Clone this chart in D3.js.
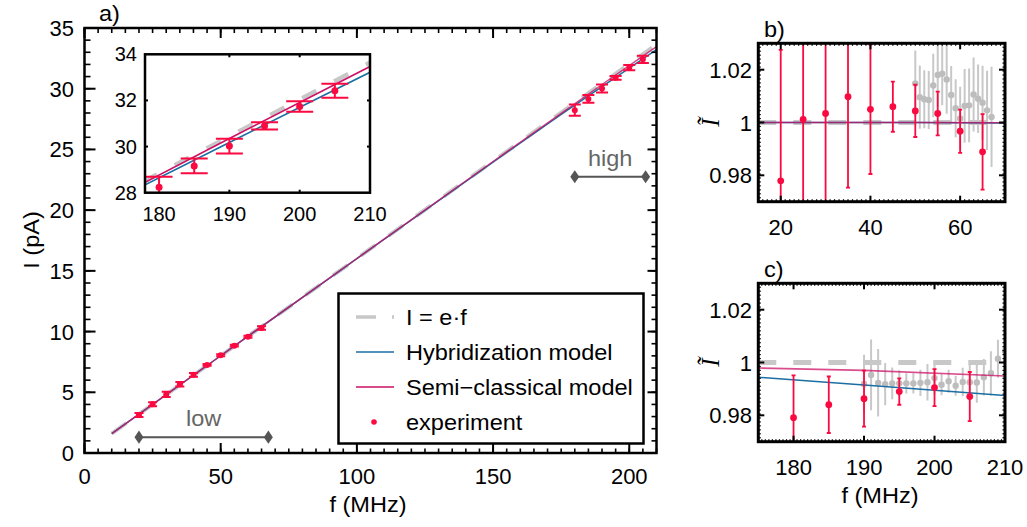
<!DOCTYPE html>
<html><head><meta charset="utf-8">
<script src="https://cdn.jsdelivr.net/npm/d3@7"></script>
<style>
body{margin:0;background:#fff}
svg{display:block;font-family:"Liberation Sans",Arial,sans-serif}
</style>
</head><body>
<svg id="chart" width="1027" height="527"></svg>
<script>
// ---------------- data ----------------
const E_CHARGE = 0.1602;               // pA per MHz  (I = e·f)
// low-frequency experiment (normalized current Ĩ = I/(e f))
const fLow      = [20, 25, 30, 35, 40, 45, 50, 55, 60, 65];
const ItLow     = [0.9779, 1.0012, 1.0034, 1.0098, 1.0050, 1.0060, 1.0044, 1.0034, 0.9967, 0.9889];
const errLow    = [0.0496, 0.0400, 0.0450, 0.0345, 0.0245, 0.0095, 0.0099, 0.0083, 0.0082, 0.0143];
const fLowGray  = [50, 51, 52, 53, 54, 55, 56, 57, 58, 59, 60, 61, 62, 63, 64, 65, 66, 67];
const ItLowGray = [1.0148, 1.0096, 1.0088, 1.0085, 1.0140, 1.0180, 1.0185, 1.0163, 1.0104, 1.0054, 1.0015, 1.0063, 1.0065, 1.0106, 1.0090, 1.0075, 1.0046, 1.0021];
const errLowGray= [0.0125, 0.0120, 0.0110, 0.0110, 0.0120, 0.0120, 0.0120, 0.0130, 0.0110, 0.0110, 0.0120, 0.0140, 0.0140, 0.0140, 0.0130, 0.0140, 0.0150, 0.0190];
// high-frequency experiment
const fHigh     = [180, 185, 190, 195, 200, 205];
const ItHigh    = [0.9791, 0.9840, 0.9863, 0.9890, 0.9905, 0.9871];
const errHigh   = [0.0160, 0.0107, 0.0106, 0.0050, 0.0070, 0.0093];
const fHighGray = [190, 191, 192, 193, 194, 195, 196, 197, 198, 199, 200, 201, 202, 203, 204, 205, 206, 207, 208, 209, 210];
const ItHighGray= [0.9919, 0.9953, 0.9923, 0.9918, 0.9921, 0.9921, 0.9921, 0.9921, 0.9923, 0.9925, 0.9941, 0.9916, 0.9929, 0.9912, 0.9926, 0.9925, 0.9924, 0.9944, 0.9959, 1.0014, 1.0044];
const errHighGray=[0.0110, 0.0134, 0.0128, 0.0080, 0.0060, 0.0050, 0.0038, 0.0038, 0.0050, 0.0069, 0.0063, 0.0040, 0.0044, 0.0038, 0.0054, 0.0069, 0.0076, 0.0069, 0.0084, 0.0072, 0.0070];
// models (normalized)
const fModel    = [10, 50, 100, 150, 175, 190, 210];
const hybModel  = [1.0000, 1.0000, 0.9995, 0.9972, 0.9944, 0.9915, 0.9875];
const semiModel = [1.0000, 1.0000, 0.9998, 0.9990, 0.9979, 0.9970, 0.9949];
// ranges
const lowRange  = [20, 67.5];
const highRange = [180, 206];
// tick labels
const mainXTicks = [0, 50, 100, 150, 200];
const mainYTicks = [0, 5, 10, 15, 20, 25, 30, 35];
const insetXTicks = [180, 190, 200, 210];
const insetYTicks = [28, 30, 32, 34];
const bXTicks = [20, 40, 60];
const cXTicks = [180, 190, 200, 210];
const normYTicks = [0.98, 1, 1.02];
const legendLabels = ["I = e\u00b7f", "Hybridization model", "Semi\u2212classical model", "experiment"];

// ---------------- styles ----------------
const RED = "#fa0a40", BLUE = "#1a6ea3", MAG = "#cc1166", GRAY = "#c8c8c8", GRAYDOT = "#bdbdbd";
const STRETCH = 1.07;

const svg = d3.select("#chart");
const defs = svg.append("defs");
function stext(g, x, y, str, size, anchor, extra) {
  const t = g.append("text").attr("transform", `translate(${x},${y}) ${extra || ""} scale(${STRETCH},1)`)
    .attr("text-anchor", anchor || "start").attr("font-size", size).text(str);
  return t;
}
function clip(id, x, y) {
  const [x0, x1] = x.range(), [yb, yt] = y.range();
  defs.append("clipPath").attr("id", id).append("rect")
    .attr("x", x0).attr("y", yt).attr("width", x1 - x0).attr("height", yb - yt);
}
function ticks(g, x, y, o) {
  const [x0, x1] = x.range(), [yb, yt] = y.range();
  const add = (x1_, y1_, x2_, y2_, w) => g.append("line").attr("x1", x1_).attr("y1", y1_).attr("x2", x2_).attr("y2", y2_)
      .attr("stroke", "#000").attr("stroke-width", w);
  (o.xMinor || []).forEach(v => { const p = x(v); add(p, yb, p, yb - o.minB, o.wMin); add(p, yt, p, yt + o.minT, o.wMin); });
  (o.yMinor || []).forEach(v => { const p = y(v); add(x0, p, x0 + o.minL, p, o.wMin); add(x1, p, x1 - o.minR, p, o.wMin); });
  (o.xMajor || []).forEach(v => { const p = x(v); add(p, yb, p, yb - o.majB, o.wMaj); add(p, yt, p, yt + o.majT, o.wMaj); });
  (o.yMajor || []).forEach(v => { const p = y(v); add(x0, p, x0 + o.majL, p, o.wMaj); add(x1, p, x1 - o.majR, p, o.wMaj); });
}
function frame(g, x, y, w) {
  const [x0, x1] = x.range(), [yb, yt] = y.range();
  g.append("rect").attr("x", x0).attr("y", yt).attr("width", x1 - x0).attr("height", yb - yt)
    .attr("fill", "none").attr("stroke", "#000").attr("stroke-width", w);
}
function errbars(g, x, y, pts, color, cap, sw) {
  pts.forEach(d => {
    g.append("line").attr("x1", x(d.f)).attr("x2", x(d.f)).attr("y1", y(d.lo)).attr("y2", y(d.hi))
      .attr("stroke", color).attr("stroke-width", sw);
    if (cap > 0) {
      [d.lo, d.hi].forEach(v => g.append("line").attr("x1", x(d.f) - cap).attr("x2", x(d.f) + cap)
        .attr("y1", y(v)).attr("y2", y(v)).attr("stroke", color).attr("stroke-width", sw));
    }
  });
}
function dots(g, x, y, pts, color, r) {
  g.selectAll(null).data(pts).join("circle").attr("cx", d => x(d.f)).attr("cy", d => y(d.v)).attr("r", r).attr("fill", color);
}
const range = (a, b, s) => d3.range(a, b + s / 2, s);

// derived point sets
const norm = (fs, vs, es) => fs.map((f, i) => ({ f, v: vs[i], lo: vs[i] - es[i], hi: vs[i] + es[i] }));
const toI  = (fs, vs, es) => fs.map((f, i) => ({ f, v: vs[i] * E_CHARGE * f, lo: (vs[i] - es[i]) * E_CHARGE * f, hi: (vs[i] + es[i]) * E_CHARGE * f }));
const lowPtsI  = toI(fLow, ItLow, errLow);
const highPtsI = toI(fHigh, ItHigh, errHigh);
const modelI = arr => fModel.map((f, i) => [f, arr[i] * E_CHARGE * f]);
const idealI = fModel.map(f => [f, E_CHARGE * f]);

// ================= main panel a =================
const xA = d3.scaleLinear([0, 210], [84.5, 656.5]);
const yA = d3.scaleLinear([0, 35], [453, 28]);
clip("clipA", xA, yA);
const gA = svg.append("g");
const lineA = d3.line().x(d => xA(d[0])).y(d => yA(d[1]));
const plotA = gA.append("g").attr("clip-path", "url(#clipA)");
plotA.append("path").attr("d", lineA(idealI)).attr("fill", "none").attr("stroke", GRAY).attr("stroke-width", 4).attr("stroke-dasharray", "18,16");
plotA.append("path").attr("d", lineA(modelI(hybModel))).attr("fill", "none").attr("stroke", BLUE).attr("stroke-width", 1.5);
plotA.append("path").attr("d", lineA(modelI(semiModel))).attr("fill", "none").attr("stroke", MAG).attr("stroke-width", 1.5).attr("stroke-opacity", 0.8);
errbars(plotA, xA, yA, lowPtsI, RED, 4.5, 2);
errbars(plotA, xA, yA, highPtsI, RED, 6, 2);
dots(plotA, xA, yA, lowPtsI, RED, 3);
dots(plotA, xA, yA, highPtsI, RED, 3);

// low / high range markers
function rangeMarker(r, level, label, labelLevel) {
  const g = gA.append("g");
  g.append("line").attr("x1", xA(r[0])).attr("x2", xA(r[1])).attr("y1", yA(level)).attr("y2", yA(level))
    .attr("stroke", "#555").attr("stroke-width", 2);
  r.forEach(v => g.append("path").attr("d", d3.symbol(d3.symbolDiamond, 70)())
    .attr("transform", `translate(${xA(v)},${yA(level)}) scale(1,0.85)`).attr("fill", "#555"));
  stext(g, (xA(r[0]) + xA(r[1])) / 2, yA(labelLevel), label, 22, "middle").attr("fill", "#666");
}
rangeMarker(lowRange, 1.3, "low", 2.2);
rangeMarker(highRange, 22.75, "high", 23.65);

frame(gA, xA, yA, 2.5);
ticks(gA, xA, yA, {
  xMajor: mainXTicks, xMinor: range(0, 210, 5), yMajor: mainYTicks, yMinor: range(0, 35, 1),
  majB: 10, minB: 4.5, majT: 10, minT: 5, majL: 11, minL: 6, majR: 9, minR: 5, wMaj: 2, wMin: 1.6
});
gA.selectAll(null).data(mainXTicks).join("text").attr("x", d => xA(d)).attr("y", 484)
  .attr("text-anchor", "middle").attr("font-size", 22).text(d => d);
gA.selectAll(null).data(mainYTicks).join("text").attr("x", 74).attr("y", d => yA(d) + 8)
  .attr("text-anchor", "end").attr("font-size", 22).text(d => d);
stext(gA, 368, 512, "f (MHz)", 22, "middle");
stext(gA, 39, 240, "I (pA)", 22, "middle", "rotate(-90)");
stext(gA, 99, 21, "a)", 22, "start");

// ---------------- inset ----------------
const xI = d3.scaleLinear([178, 210], [145, 370]);
const yI = d3.scaleLinear([28, 34], [192.7, 54.3]);
clip("clipI", xI, yI);
const gI = svg.append("g");
gI.append("rect").attr("x", 145).attr("y", 54.3).attr("width", 225).attr("height", 138.4).attr("fill", "#fff");
const lineI = d3.line().x(d => xI(d[0])).y(d => yI(d[1]));
const plotI = gI.append("g").attr("clip-path", "url(#clipI)");
plotI.append("path").attr("d", lineI(idealI)).attr("fill", "none").attr("stroke", GRAY).attr("stroke-width", 4.5).attr("stroke-dasharray", "16,20");
plotI.append("path").attr("d", lineI(modelI(hybModel))).attr("fill", "none").attr("stroke", BLUE).attr("stroke-width", 1.6);
plotI.append("path").attr("d", lineI(modelI(semiModel))).attr("fill", "none").attr("stroke", MAG).attr("stroke-width", 1.6);
errbars(plotI, xI, yI, highPtsI, RED, 13.5, 2);
dots(plotI, xI, yI, highPtsI, RED, 3.5);
frame(gI, xI, yI, 2.5);
ticks(gI, xI, yI, {
  xMajor: [190, 200], yMajor: [30, 32], majB: 3, majT: 3, majL: 3, majR: 3, wMaj: 2
});
gI.selectAll(null).data(insetXTicks).join("text").attr("x", d => xI(d)).attr("y", 221)
  .attr("text-anchor", "middle").attr("font-size", 20).text(d => d);
gI.selectAll(null).data(insetYTicks).join("text").attr("x", 137).attr("y", d => yI(d) + 7)
  .attr("text-anchor", "end").attr("font-size", 20).text(d => d);

// ---------------- legend ----------------
const gL = svg.append("g");
gL.append("rect").attr("x", 338.5).attr("y", 293.5).attr("width", 305).attr("height", 150)
  .attr("fill", "#fff").attr("stroke", "#000").attr("stroke-width", 2.5);
const legY = [317, 352, 387, 422];
legendLabels.forEach((t, i) => {
  const yy = legY[i];
  if (i === 0) gL.append("line").attr("x1", 356).attr("x2", 394).attr("y1", yy).attr("y2", yy)
    .attr("stroke", GRAY).attr("stroke-width", 3.5).attr("stroke-dasharray", "20,16");
  if (i === 1) gL.append("line").attr("x1", 356).attr("x2", 394).attr("y1", yy).attr("y2", yy).attr("stroke", BLUE).attr("stroke-width", 1.6);
  if (i === 2) gL.append("line").attr("x1", 356).attr("x2", 394).attr("y1", yy).attr("y2", yy).attr("stroke", MAG).attr("stroke-width", 1.6);
  if (i === 3) gL.append("circle").attr("cx", 374).attr("cy", yy).attr("r", 2.8).attr("fill", RED);
  stext(gL, 406, yy + 8, t, 22, "start");
});

// ================= panels b & c =================
function normPanel(id, x, y, xTickVals, xMinorStep, fmtX, grayPts, redPts, label, labelY, xLabel) {
  clip(id, x, y);
  const g = svg.append("g");
  const p = g.append("g").attr("clip-path", `url(#${id})`);
  const ln = d3.line().x(d => x(d[0])).y(d => y(d[1]));
  const [x0, x1] = x.domain();
  p.append("path").attr("d", ln([[x0, 1], [x1, 1]])).attr("fill", "none").attr("stroke", GRAY)
    .attr("stroke-width", 5).attr("stroke-dasharray", "18,17");
  errbars(p, x, y, grayPts, GRAY, 0, 2);
  dots(p, x, y, grayPts, GRAYDOT, 3.2);
  p.append("path").attr("d", ln(fModel.map((f, i) => [f, hybModel[i]]))).attr("fill", "none").attr("stroke", BLUE).attr("stroke-width", 1.6);
  p.append("path").attr("d", ln(fModel.map((f, i) => [f, semiModel[i]]))).attr("fill", "none").attr("stroke", MAG).attr("stroke-width", 1.6).attr("stroke-opacity", 0.75);
  errbars(p, x, y, redPts, RED, 2, 1.8);
  dots(p, x, y, redPts, RED, 3.4);
  frame(g, x, y, 3);
  ticks(g, x, y, {
    xMajor: xTickVals, xMinor: range(x0, x1, xMinorStep), yMajor: normYTicks, yMinor: range(0.97, 1.03, 0.0015),
    majB: 6, minB: 2.5, majT: 6, minT: 2.5, majL: 6, minL: 2.5, majR: 6, minR: 2.5, wMaj: 2, wMin: 1.2
  });
  const [yb] = y.range();
  g.selectAll(null).data(xTickVals).join("text").attr("x", d => x(d)).attr("y", yb + 33)
    .attr("text-anchor", "middle").attr("font-size", 22).text(fmtX);
  g.selectAll(null).data(normYTicks).join("text").attr("x", 752).attr("y", d => y(d) + 8)
    .attr("text-anchor", "end").attr("font-size", 22).text(d => d3.format("")(d));
  g.append("text").attr("transform", `translate(719,${y(1)}) rotate(-90)`).attr("text-anchor", "middle")
    .attr("font-family", "'Liberation Serif',serif").attr("font-style", "italic").attr("font-size", 25).text("\u0128");
  stext(g, 764, labelY, label, 22, "start");
  if (xLabel) stext(g, 880, yb + 61, xLabel, 22, "middle");
}
const xB = d3.scaleLinear([15, 70], [758.3, 1005]);
const yB = d3.scaleLinear([0.97, 1.03], [201.7, 43.3]);
normPanel("clipB", xB, yB, bXTicks, 1, d => d, norm(fLowGray, ItLowGray, errLowGray), norm(fLow, ItLow, errLow), "b)", 37, null);
const xC = d3.scaleLinear([175, 210], [758.3, 1005]);
const yC = d3.scaleLinear([0.97, 1.03], [441.7, 283.3]);
normPanel("clipC", xC, yC, cXTicks, 0.5, d => d, norm(fHighGray, ItHighGray, errHighGray), norm(fHigh, ItHigh, errHigh), "c)", 277, "f (MHz)");
</script>
</body></html>
